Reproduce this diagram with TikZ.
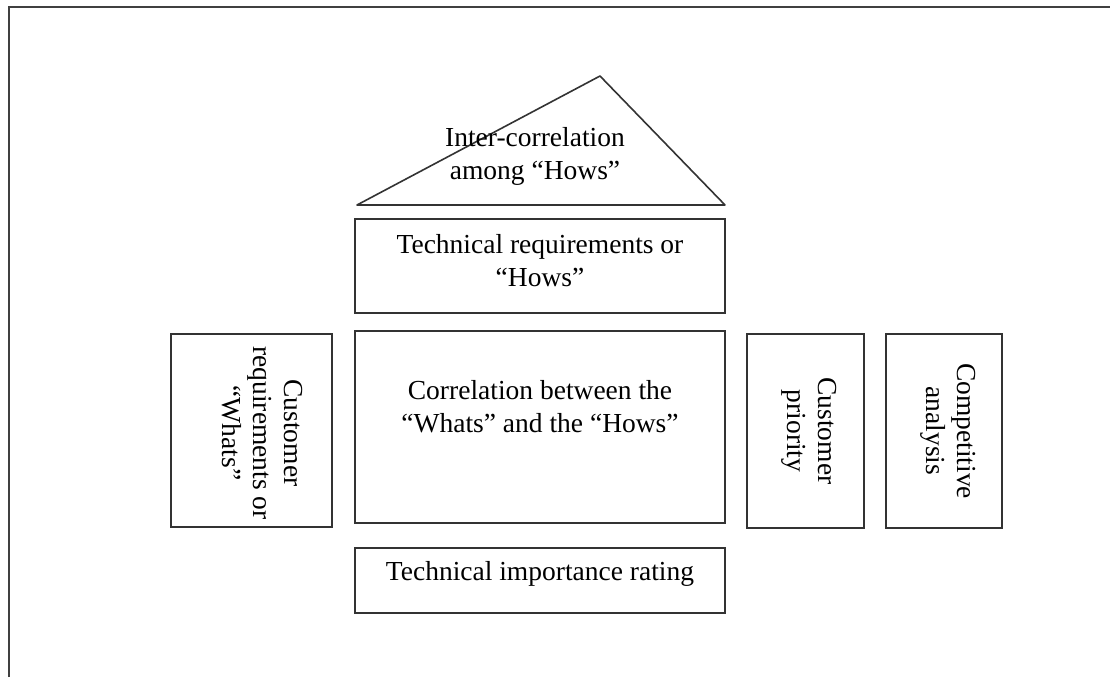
\documentclass[tikz,border=0pt]{standalone}
\usepackage{fontspec}
\setmainfont{Liberation Serif}
\begin{document}
\begin{tikzpicture}[x=1pt,y=-1pt,
  box/.style={draw=black!80, line width=1.6pt, rectangle, inner sep=0pt, align=center},
  lbl/.style={align=center, inner sep=0pt, font=\fontsize{27.5}{33}\selectfont},
  vlbl/.style={lbl, rotate=-90, font=\fontsize{27.5}{31}\selectfont},
  frame/.style={draw=black!75, line width=2.2pt}]
\useasboundingbox (0,0) rectangle (1110,677);
\fill[white] (0,0) rectangle (1110,677);
% outer frame (left and top only)
\coordinate (fbl) at (9,677);
\coordinate (ftl) at (9,7);
\coordinate (ftr) at (1110,7);
\draw[frame] (fbl) -- (ftl) -- (ftr);
% roof
\coordinate (apex) at (600,76);
\coordinate (rl) at (357,205);
\coordinate (rr) at (725,205);
\draw[draw=black!80, line width=1.6pt, line join=round] (rl) -- (apex) -- (rr) -- cycle;
\node[lbl] (roof) at (535,156) {Inter-correlation\\among ``Hows''};
% boxes
\node[box, minimum width=370pt, minimum height=94pt] (hows) at (540,266) {};
\node[lbl] (howst) at (540,261) {Technical requirements or\\``Hows''};
\node[box, minimum width=370pt, minimum height=192pt] (corr) at (540,427) {};
\node[lbl] (corrt) at (540,407) {Correlation between the\\``Whats'' and the ``Hows''};
\node[box, minimum width=370pt, minimum height=65pt] (rate) at (540,580.5) {};
\node[lbl] (ratet) at (540,574) {Technical importance rating};
\node[box, rotate=-90, minimum width=193pt, minimum height=161pt] (whats) at (251.5,430.5) {};
\node[vlbl] (whatst) at (262,433) {Customer\\requirements or\\``Whats''};
\node[box, rotate=-90, minimum width=194pt, minimum height=117pt] (prio) at (805.5,431) {};
\node[vlbl] (priot) at (809,431) {Customer\\priority};
\node[box, rotate=-90, minimum width=194pt, minimum height=116pt] (comp) at (944,431) {};
\node[vlbl] (compt) at (948,431) {Competitive\\analysis};
\end{tikzpicture}
\end{document}
